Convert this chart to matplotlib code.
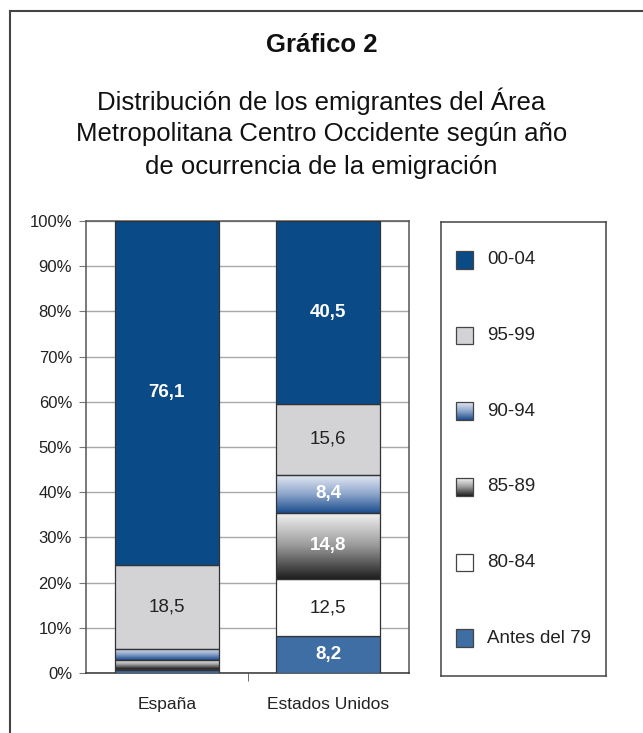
import numpy as np
import matplotlib
matplotlib.use("Agg")
import matplotlib.pyplot as plt
from matplotlib.colors import LinearSegmentedColormap
from matplotlib.lines import Line2D
from matplotlib.patches import Rectangle

plt.rcParams['font.family'] = ['Liberation Sans', 'DejaVu Sans']

# data
paises = ['España', 'Estados Unidos']
periodos = ['Antes del 79', '80-84', '85-89', '90-94', '95-99', '00-04']
antes79 = [0.6, 8.2]
p80_84 = [0.3, 12.5]
p85_89 = [1.9, 14.8]
p90_94 = [2.6, 8.4]
p95_99 = [18.5, 15.6]
p00_04 = [76.1, 40.5]
series = [antes79, p80_84, p85_89, p90_94, p95_99, p00_04]

# labels shown in the bars (None = no label)
etiquetas = [
    [None, '8,2'],
    [None, '12,5'],
    [None, '14,8'],
    [None, '8,4'],
    ['18,5', '15,6'],
    ['76,1', '40,5'],
]
negrita = [True, False, True, True, False, True]

azul_oscuro = '#0a4a86'
gris = '#d3d3d5'
azul_medio = '#3f6ea5'
cmap_azul = LinearSegmentedColormap.from_list('az', ['#e2e8f3', '#8ea6cc', '#1a4c8b'])
cmap_gris = LinearSegmentedColormap.from_list('gr', ['#f4f4f4', '#9a9a9a', '#1e1e1e'])
estilos = [azul_medio, 'white', cmap_gris, cmap_azul, gris, azul_oscuro]

fig = plt.figure(figsize=(6.43, 7.33), dpi=100)
ax = fig.add_axes([86/643, 1 - 673/733, 323/643, 452/733])

x = np.arange(len(paises))
ancho = 0.645
base = np.zeros(len(paises))
grad = np.linspace(0, 1, 256).reshape(-1, 1)
for serie, estilo, labs, bold in zip(series, estilos, etiquetas, negrita):
    vals = np.array(serie)
    if isinstance(estilo, str):
        bars = ax.bar(x, vals, ancho, bottom=base, color=estilo,
                      edgecolor='#333333', linewidth=0.9, zorder=3)
    else:
        bars = ax.bar(x, vals, ancho, bottom=base, color='none',
                      edgecolor='#333333', linewidth=0.9, zorder=4)
        for r in bars:
            ax.imshow(grad, cmap=estilo, aspect='auto', origin='upper',
                      extent=[r.get_x(), r.get_x() + r.get_width(),
                              r.get_y(), r.get_y() + r.get_height()],
                      zorder=3)
    for r, lab in zip(bars, labs):
        if lab is None:
            continue
        col = 'white' if bold else '#222222'
        ax.text(r.get_x() + r.get_width() / 2, r.get_y() + r.get_height() / 2, lab,
                ha='center', va='center', color=col, fontsize=13.5,
                fontweight='bold' if bold else 'normal', zorder=5)
    base = base + vals

ax.set_xlim(-0.5, 1.5)
ax.set_ylim(0, 100)
ax.set_yticks(np.arange(0, 101, 10))
ax.set_yticklabels([f'{v}%' for v in range(0, 101, 10)], fontsize=12, color='#222222')
ax.yaxis.grid(True, color='#a8a8a8', linewidth=1)
ax.set_axisbelow(True)
ax.tick_params(axis='y', length=5, color='#777777', pad=5)
ax.set_xticks(x)
ax.set_xticklabels(paises, fontsize=12.5, color='#222222')
ax.tick_params(axis='x', length=0, pad=17)
ax.set_xticks([0.5], minor=True)
ax.tick_params(axis='x', which='minor', length=6, color='#555555')
for s in ax.spines.values():
    s.set_color('#555555')
    s.set_linewidth(1.1)
ax.spines['bottom'].set_color('#333333')

# legend box
lax = fig.add_axes([441/643, 1 - 676/733, 165/643, 454/733])
lax.set_xticks([])
lax.set_yticks([])
for s in lax.spines.values():
    s.set_color('#444444')
    s.set_linewidth(1.1)
orden = [5, 4, 3, 2, 1, 0]
for i, k in enumerate(orden):
    estilo = estilos[k]
    yc = i + 0.5
    x0, x1 = 0.091, 0.194
    h = 0.23
    if isinstance(estilo, str):
        lax.add_patch(Rectangle((x0, yc - h / 2), x1 - x0, h, facecolor=estilo,
                                edgecolor='#444444', linewidth=0.9))
    else:
        lax.imshow(grad, cmap=estilo, aspect='auto', origin='upper',
                   extent=[x0, x1, yc + h / 2, yc - h / 2], zorder=2)
        lax.add_patch(Rectangle((x0, yc - h / 2), x1 - x0, h, facecolor='none',
                                edgecolor='#444444', linewidth=0.9, zorder=3))
    lax.text(0.279, yc, periodos[k], va='center', ha='left', fontsize=13.5, color='#222222')
lax.set_xlim(0, 1)
lax.set_ylim(6, 0)

# titles
fig.text(0.5, 1 - 45/733, 'Gráfico 2', ha='center', va='center',
         fontsize=18.5, fontweight='bold', color='#111111')
subt = ['Distribución de los emigrantes del Área',
        'Metropolitana Centro Occidente según año',
        'de ocurrencia de la emigración']
for i, linea in enumerate(subt):
    fig.text(0.5, 1 - (101 + 33 * i)/733, linea, ha='center', va='center',
             fontsize=18.5, color='#111111')

# outer frame (only top and left visible)
fig.add_artist(Line2D([10/643, 10/643], [0, 1 - 11/733], transform=fig.transFigure,
                      color='#444444', linewidth=1.5))
fig.add_artist(Line2D([10/643, 1], [1 - 11/733, 1 - 11/733], transform=fig.transFigure,
                      color='#444444', linewidth=1.5))

fig.savefig('out.png', dpi=100)
